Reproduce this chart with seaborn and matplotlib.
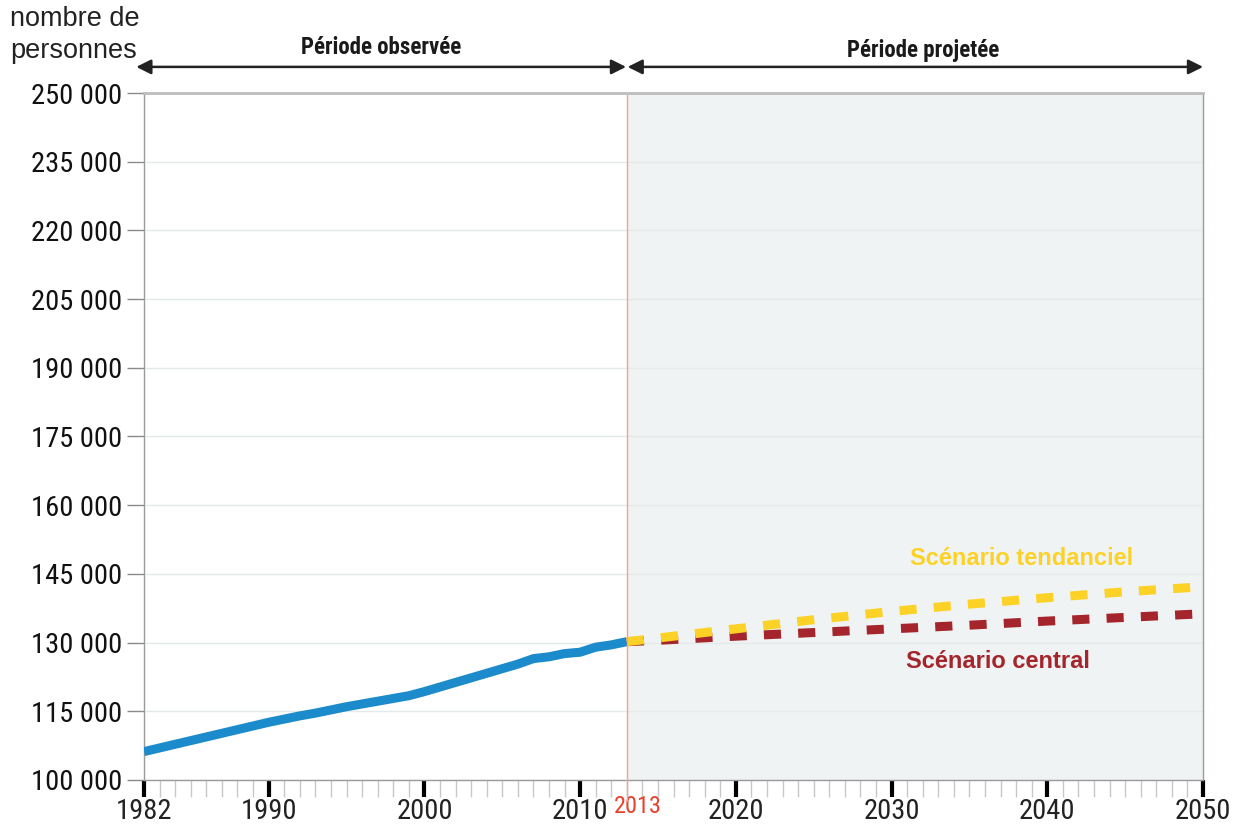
import numpy as np
import pandas as pd
import matplotlib.pyplot as plt
import matplotlib.transforms as mtransforms
from matplotlib import font_manager as fm
import seaborn as sns

obs_years = [1982, 1983, 1984, 1985, 1986, 1987, 1988, 1989, 1990, 1991, 1992,
             1993, 1994, 1995, 1996, 1997, 1998, 1999, 2000, 2001, 2002, 2003,
             2004, 2005, 2006, 2007, 2008, 2009, 2010, 2011, 2012, 2013]
obs_values = [106200, 107000, 107800, 108600, 109400, 110200, 111000, 111800,
              112600, 113300, 114000, 114600, 115300, 116000, 116600, 117200,
              117800, 118400, 119300, 120300, 121300, 122300, 123300, 124300,
              125300, 126500, 126900, 127600, 127900, 129000, 129500, 130200]

# Projections
proj_years = [2013, 2015, 2020, 2025, 2030, 2035, 2040, 2045, 2050]
tendanciel = [130200, 131000, 133000, 135000, 136800, 138400, 139800, 141100, 142200]
central = [130200, 130500, 131400, 132200, 133000, 133800, 134700, 135500, 136300]

y_ticks = list(range(100000, 250001, 15000))
x_major = [1982, 1990, 2000, 2010, 2020, 2030, 2040, 2050]

sns.set_style('white')
plt.rcParams['font.family'] = ['Liberation Sans', 'DejaVu Sans']


# look for a condensed / narrow face for the tick labels
def weight_num(w):
    if isinstance(w, int):
        return w
    return {'bold': 700, 'normal': 400, 'regular': 400}.get(str(w).lower(), 400)


cands = [f for f in fm.fontManager.ttflist
         if f.style == 'normal' and (f.stretch in ('condensed', 'semi-condensed')
                                     or 'Condensed' in f.name or 'Narrow' in f.name)]
pref = ['Liberation Sans Narrow', 'Roboto Condensed', 'Open Sans Condensed',
        'Noto Sans', 'DejaVu Sans']
cands.sort(key=lambda f: (pref.index(f.name) if f.name in pref else 9, f.fname))
reg = [f for f in cands if weight_num(f.weight) == 400]
bld = [f for f in cands if weight_num(f.weight) >= 700]

if reg:
    fp_tick = fm.FontProperties(fname=reg[0].fname, size=20.5)
    fp_2013 = fm.FontProperties(fname=reg[0].fname, size=17.5)
else:
    fp_tick = fm.FontProperties(family='Liberation Sans', size=18)
    fp_2013 = fm.FontProperties(family='Liberation Sans', size=14)
if bld:
    fp_head = fm.FontProperties(fname=bld[0].fname, size=16.5)
else:
    fp_head = fm.FontProperties(family='Liberation Sans', weight='bold', size=14)

blue = '#1b8bcb'
yellow = '#fdd226'
red = '#a4262c'
shade = '#f0f3f4'

fig = plt.figure(figsize=(12.44, 8.26), dpi=100)
ax = fig.add_axes([0.1158, 0.0557, 0.8513, 0.8317])

ax.set_xlim(1982, 2050)
ax.set_ylim(100000, 250000)

# projected period background
ax.axvspan(2013, 2050, color=shade, zorder=0, lw=0)
for v in y_ticks:
    ax.axhline(v, color='#e4eaea', lw=1, zorder=1)

df_obs = pd.DataFrame({'annee': obs_years, 'pop': obs_values})
sns.lineplot(data=df_obs, x='annee', y='pop', color=blue, lw=6.5,
             solid_capstyle='butt', ax=ax, zorder=4)

dash = (0, (1.9, 1.9))
df_c = pd.DataFrame({'annee': proj_years, 'pop': central})
df_t = pd.DataFrame({'annee': proj_years, 'pop': tendanciel})
sns.lineplot(data=df_c, x='annee', y='pop', color=red, lw=6.5, linestyle=dash,
             dash_capstyle='butt', ax=ax, zorder=4)
sns.lineplot(data=df_t, x='annee', y='pop', color=yellow, lw=6.5, linestyle=dash,
             dash_capstyle='butt', ax=ax, zorder=5)

# 2013 separator
trans = mtransforms.blended_transform_factory(ax.transData, ax.transAxes)
ax.plot([2013, 2013], [-0.03, 0.997], transform=trans, color='#f6a08e',
        lw=1, clip_on=False, zorder=6)
ax.text(2013.7, -0.022, '2013', transform=trans, color='#e8402a',
        fontproperties=fp_2013, ha='center', va='top')

# axes styling
ax.set_xticks(x_major)
ax.set_xticklabels([str(x) for x in x_major], fontproperties=fp_tick, color='#222222')
ax.set_xticks([y for y in range(1982, 2051)], minor=True)
ax.tick_params(axis='x', which='major', direction='out', length=12, width=3,
               color='black', pad=1, bottom=True)
ax.tick_params(axis='x', which='minor', direction='out', length=12, width=1,
               color='#c8c8c8', bottom=True)
ax.set_yticks(y_ticks)
ax.set_yticklabels([f'{v:,}'.replace(',', ' ') for v in y_ticks],
                   fontproperties=fp_tick, color='#111111')
ax.tick_params(axis='y', direction='out', length=12, width=1, color='#8a8a8a',
               pad=4, left=True)
ax.set_xlabel('')
ax.set_ylabel('')

for side in ['left', 'right', 'bottom']:
    ax.spines[side].set_color('#9a9a9a')
    ax.spines[side].set_linewidth(1)
ax.spines['top'].set_color('#bdbdbd')
ax.spines['top'].set_linewidth(2)

# period arrows
arrow = dict(arrowstyle='<|-|>', color='#222222', lw=1.8, mutation_scale=22,
             shrinkA=0, shrinkB=0)
ax.annotate('', xy=(1981.5, 1.038), xytext=(2012.95, 1.038), xycoords=trans,
            textcoords=trans, arrowprops=arrow, annotation_clip=False)
ax.annotate('', xy=(2013.05, 1.038), xytext=(2050, 1.038), xycoords=trans,
            textcoords=trans, arrowprops=arrow, annotation_clip=False)
ax.text(1997.2, 1.066, 'Période observée', transform=trans, fontproperties=fp_head,
        color='#1a1a1a', ha='center', va='center')
ax.text(2032.0, 1.062, 'Période projetée', transform=trans, fontproperties=fp_head,
        color='#1a1a1a', ha='center', va='center')

# scenario labels
ax.text(2031.2, 148300, 'Scénario tendanciel', color=yellow, fontsize=17,
        fontweight='bold', ha='left', va='center')
ax.text(2030.9, 125900, 'Scénario central', color=red, fontsize=17,
        fontweight='bold', ha='left', va='center')

fig.text(10 / 1244, 0.993, 'nombre de\npersonnes', fontsize=19.5, color='#222222',
         ha='left', va='top', linespacing=1.3)

fig.savefig('out.png', dpi=100)
